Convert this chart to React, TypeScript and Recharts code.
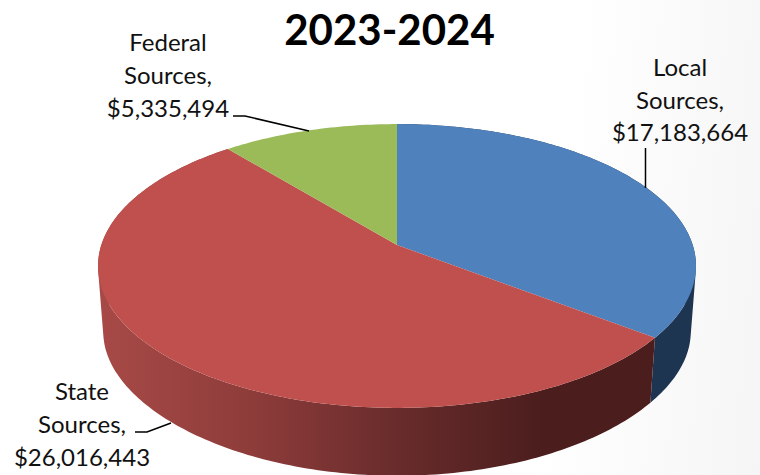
import React from 'react';
import { PieChart, Pie, Cell } from 'recharts';

const sources = ['Local', 'State', 'Federal'];
const amounts = [17183664, 26016443, 5335494];
const colors = ['#4f81bd', '#c0504d', '#9bbb59'];
const wallColors = ['#1d3550', 'url(#stateWall)', 'none'];

// where the three label blocks sit: centre x, then the three baselines
const labelX = [680, 82, 168];
const labelY = [
	[76, 109, 141],
	[400, 433, 466],
	[51, 84, 117],
];
const leaders = [
	'M645.5 148V188',
	'M135 432H147L171 423',
	'M233 116H245L309 131',
];

// perspective of the disc, worked out from the rim of the picture
const TILT = 0.148;
const SQUASH = 0.4694;
const BASE_SCALE = 0.9824;
const BASE_DROP = 67;
const BASE_SQUASH = 0.443;
const BASE_TILT = 0.2;

type Pt = [number, number];

const project = (cx: number, cy: number, r: number, deg: number, base: boolean): Pt => {
	const rad = (deg * Math.PI) / 180;
	const u = Math.cos(rad);
	const v = -Math.sin(rad);
	const w = 1 - TILT * v;
	if (base) {
		return [cx + (r * BASE_SCALE * u) / w, cy + BASE_DROP + (r * BASE_SQUASH * v) / (1 - BASE_TILT * v)];
	}
	return [cx + (r * u) / w, cy + (r * SQUASH * v) / w];
};

const arc = (cx: number, cy: number, r: number, from: number, to: number, base: boolean) => {
	const n = Math.max(2, Math.ceil(Math.abs(to - from)));
	const pts: Pt[] = [];
	for (let i = 0; i <= n; i++) {
		pts.push(project(cx, cy, r, from + ((to - from) * i) / n, base));
	}
	return pts;
};

const toPath = (pts: Pt[]) => 'M' + pts.map((p) => p[0].toFixed(2) + ' ' + p[1].toFixed(2)).join('L') + 'Z';

// same winding for every quad, otherwise overlaps at the fold cancel out
const wound = (q: Pt[]) => {
	let area = 0;
	q.forEach((p, i) => {
		const next = q[(i + 1) % q.length];
		area += p[0] * next[1] - next[0] * p[1];
	});
	return area < 0 ? [...q].reverse() : q;
};

const DiscSlice = (props: any) => {
	const { cx, cy, outerRadius, startAngle, endAngle, fill, index } = props;
	const top = arc(cx, cy, outerRadius, startAngle, endAngle, false);
	const bottom = arc(cx, cy, outerRadius, startAngle, endAngle, true);
	let wall = '';
	for (let i = 0; i < top.length - 1; i++) {
		wall += toPath(wound([top[i], top[i + 1], bottom[i + 1], bottom[i]]));
	}
	return (
		<g>
			<defs>
				<linearGradient id="stateWall" gradientUnits="userSpaceOnUse" x1="97" y1="0" x2="545" y2="0">
					<stop offset="0" stopColor="#a84a47" />
					<stop offset="0.35" stopColor="#8d3c3a" />
					<stop offset="0.68" stopColor="#682b2b" />
					<stop offset="1" stopColor="#4b1d1d" />
				</linearGradient>
			</defs>
			<path d={wall} fill={wallColors[index]} />
			<path d={toPath([[cx, cy] as Pt, ...top])} fill={fill} />
		</g>
	);
};

const textStyle: React.CSSProperties = { fontFamily: 'Lato', fontSize: 24, fill: '#111111' };

const SliceLabel = (props: any) => {
	const { index, name, value } = props;
	const lines = [name, 'Sources,', '$' + value.toLocaleString('en-US')];
	return (
		<g>
			{lines.map((line: string, i: number) => (
				<text key={i} x={labelX[index]} y={labelY[index][i]} textAnchor="middle" style={textStyle}>
					{line}
				</text>
			))}
			<path d={leaders[index]} fill="none" stroke="#000000" strokeWidth={1.5} />
		</g>
	);
};

const chartData = sources.map((name, i) => ({ name, value: amounts[i] }));

export default function App() {
	return (
		<div
			style={{
				position: 'absolute',
				left: 0,
				top: 0,
				width: 760,
				height: 475,
				overflow: 'hidden',
				background: 'linear-gradient(95deg, #ffffff 72%, #f5f5f5 100%)',
			}}
		>
			<div
				style={{
					position: 'absolute',
					left: 0,
					top: 4,
					width: 779,
					textAlign: 'center',
					fontFamily: 'Lato',
					fontWeight: 700,
					fontSize: 42,
					lineHeight: '50px',
					color: '#000000',
				}}
			>
				2023-2024
			</div>
			<PieChart width={760} height={475} margin={{ top: 0, right: 0, bottom: 0, left: 0 }} style={{ position: 'absolute', left: 0, top: 0 }}>
				<Pie
					data={chartData}
					dataKey="value"
					nameKey="name"
					cx={397}
					cy={245}
					innerRadius={0}
					outerRadius={295.7}
					startAngle={90}
					endAngle={-270}
					stroke="none"
					shape={DiscSlice}
					label={SliceLabel}
					labelLine={false}
					isAnimationActive={false}
				>
					{sources.map((s, i) => (
						<Cell key={s} fill={colors[i]} />
					))}
				</Pie>
			</PieChart>
		</div>
	);
}
